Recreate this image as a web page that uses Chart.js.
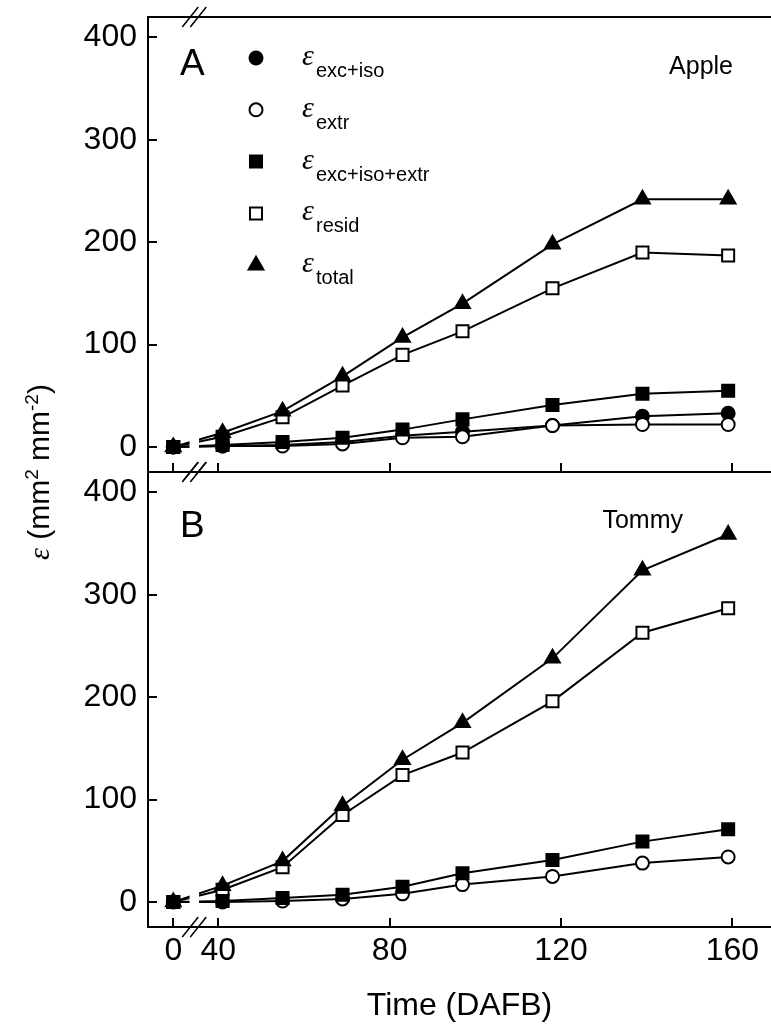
<!DOCTYPE html>
<html lang="en">
<head>
<meta charset="UTF-8">
<title>Deformação - Apple e Tommy</title>
<script src="https://cdn.jsdelivr.net/npm/chart.js"></script>
<style>
  body { margin: 0; background: #fff; }
  #quadro { position: relative; width: 771px; height: 1036px; overflow: hidden; font-family: "Liberation Sans", Arial, sans-serif; }
  canvas { position: absolute; left: 0; }
  #graficoA { top: 0; }
  #graficoB { top: 462px; }
  .rotulo { position: absolute; white-space: nowrap; color: #000; line-height: 1; }
  .eps { font-family: "Liberation Serif", "DejaVu Serif", serif; font-style: italic; }
</style>
</head>
<body>
<div id="quadro">
  <canvas id="graficoA" width="771" height="480"></canvas>
  <canvas id="graficoB" width="771" height="574"></canvas>
</div>

<script>
    // dados (dias após a floração)
    const dias = [0, 41, 55, 69, 83, 97, 118, 139, 159];

    const appleExcIso = [0, 1, 2, 5, 11, 15, 21, 30, 33];
    const appleExtr = [0, 1, 1, 3, 9, 10, 21, 22, 22];
    const appleExcIsoExtr = [0, 2, 5, 9, 17, 27, 41, 52, 55];
    const appleResid = [0, 10, 29, 60, 90, 113, 155, 190, 187];
    const appleTotal = [0, 14, 35, 69, 107, 140, 198, 242, 242];

    const tommyExtr = [0, 0, 1, 3, 8, 17, 25, 38, 44];
    const tommyExcIsoExtr = [0, 1, 4, 7, 15, 28, 41, 59, 71];
    const tommyResid = [0, 12, 34, 85, 124, 146, 196, 263, 287];
    const tommyTotal = [0, 16, 40, 94, 139, 175, 238, 324, 359];

    const xTicks = [0, 40, 80, 120, 160];
    const yTicks = [0, 100, 200, 300, 400];
    const legendaSub = ['exc+iso', 'extr', 'exc+iso+extr', 'resid', 'total'];
    const legendaEstilo = ['circle', 'circle', 'rect', 'rect', 'triangle'];
    const legendaCheio = [true, false, true, false, true];

    // eixo x quebrado: o 0 fica logo antes da quebra
    const X0_POS = 29.5;
    const QUEBRA = [33.3, 35.5];
    function eixoX(v) {
        return v < 20 ? X0_POS + v : v;
    }

    const FONTE = '"Liberation Sans", Arial, sans-serif';
    Chart.defaults.font.family = FONTE;
    Chart.defaults.color = '#000';

    function raio(estilo) {
        if (estilo === 'circle') return 6.5;
        return 8.5;
    }

    function serie(valores, estilo, cheio, ordem) {
        return {
            data: dias.map((d, i) => ({ x: eixoX(d), y: valores[i] })),
            borderColor: '#000',
            borderWidth: 2,
            pointStyle: estilo,
            pointRadius: raio(estilo),
            pointBackgroundColor: cheio ? '#000' : '#fff',
            pointBorderColor: '#000',
            pointBorderWidth: 2,
            order: ordem,
            tension: 0
        };
    }

    // moldura, marcas internas e quebra do eixo
    const moldura = {
        id: 'moldura',
        afterDatasetsDraw(chart) {
            const { ctx, chartArea: a, scales: { x } } = chart;
            const g1 = x.getPixelForValue(QUEBRA[0]);
            const g2 = x.getPixelForValue(QUEBRA[1]);
            ctx.save();
            ctx.fillStyle = '#fff';
            ctx.fillRect(g1, a.top + 3, g2 - g1, a.bottom - a.top - 6);
            ctx.restore();
        },
        afterDraw(chart, args, opts) {
            const { ctx, chartArea: a, scales: { x, y } } = chart;
            ctx.save();
            ctx.strokeStyle = '#000';
            ctx.lineWidth = 2;
            ctx.beginPath();
            ctx.moveTo(a.left, a.top);
            ctx.lineTo(a.left, a.bottom);
            ctx.moveTo(a.left - 1, a.top);
            ctx.lineTo(a.right, a.top);
            ctx.moveTo(a.left - 1, a.bottom);
            ctx.lineTo(a.right, a.bottom);
            yTicks.forEach(v => {
                const py = Math.round(y.getPixelForValue(v));
                ctx.moveTo(a.left, py);
                ctx.lineTo(a.left + 9, py);
            });
            xTicks.forEach(v => {
                const px = Math.round(x.getPixelForValue(eixoX(v)));
                ctx.moveTo(px, a.bottom);
                ctx.lineTo(px, a.bottom - 9);
            });
            ctx.stroke();

            // barras da quebra
            ctx.lineWidth = 1.5;
            const meio = x.getPixelForValue((QUEBRA[0] + QUEBRA[1]) / 2);
            ctx.beginPath();
            [a.top, a.bottom].forEach(yy => {
                [-4, 4].forEach(d => {
                    ctx.moveTo(meio + d - 8, yy + 10);
                    ctx.lineTo(meio + d + 8, yy - 10);
                });
            });
            ctx.stroke();

            // símbolos da legenda (só no painel A)
            if (opts.legenda) {
                legendaEstilo.forEach((estilo, i) => {
                    ctx.fillStyle = legendaCheio[i] ? '#000' : '#fff';
                    ctx.strokeStyle = '#000';
                    ctx.lineWidth = 2;
                    Chart.helpers.drawPoint(ctx, { pointStyle: estilo, radius: raio(estilo), borderWidth: 2, rotation: 0 }, 256, 58 + i * 51.8);
                });
            }
            ctx.restore();
        }
    };

    function escalaY() {
        return {
            type: 'linear',
            min: -24.4,
            max: 420,
            afterFit(s) {
                s.width = 148;
                s.paddingTop = 0;
                s.paddingBottom = 0;
            },
            afterBuildTicks(s) { s.ticks = yTicks.map(v => ({ value: v })); },
            grid: { display: false, drawTicks: false },
            border: { display: false },
            ticks: { font: { size: 32 }, color: '#000', padding: 11 }
        };
    }

    // Painel A - Apple
    new Chart(document.getElementById('graficoA'), {
        type: 'line',
        data: {
            datasets: [
                serie(appleExcIso, 'circle', true, 3),
                serie(appleExtr, 'circle', false, 2),
                serie(appleExcIsoExtr, 'rect', true, 0),
                serie(appleResid, 'rect', false, 4),
                serie(appleTotal, 'triangle', true, 1)
            ]
        },
        options: {
            responsive: false,
            animation: false,
            layout: { autoPadding: false, padding: { top: 17, bottom: 8, left: 0, right: 0 } },
            plugins: { legend: { display: false }, tooltip: { enabled: false }, moldura: { legenda: true } },
            scales: {
                x: { type: 'linear', min: 23.6, max: 169, display: false },
                y: escalaY()
            }
        },
        plugins: [moldura]
    });

    // Painel B - Tommy
    new Chart(document.getElementById('graficoB'), {
        type: 'line',
        data: {
            datasets: [
                serie(tommyExtr, 'circle', false, 2),
                serie(tommyExcIsoExtr, 'rect', true, 0),
                serie(tommyResid, 'rect', false, 3),
                serie(tommyTotal, 'triangle', true, 1)
            ]
        },
        options: {
            responsive: false,
            animation: false,
            layout: { autoPadding: false, padding: { top: 10, bottom: 0, left: 0, right: 0 } },
            plugins: { legend: { display: false }, tooltip: { enabled: false }, moldura: { legenda: false } },
            scales: {
                x: {
                    type: 'linear',
                    min: 23.6,
                    max: 169,
                    afterFit(s) {
                        s.height = 109;
                        s.paddingLeft = 0;
                        s.paddingRight = 0;
                    },
                    afterBuildTicks(s) { s.ticks = xTicks.map(v => ({ value: eixoX(v) })); },
                    grid: { display: false, drawTicks: false },
                    border: { display: false },
                    ticks: {
                        font: { size: 32 },
                        color: '#000',
                        padding: 5,
                        autoSkip: false,
                        maxRotation: 0,
                        callback: v => v === X0_POS ? '0' : v
                    },
                    title: { display: true, text: 'Time (DAFB)', font: { size: 32 }, color: '#000', padding: { top: 0, bottom: 11 } }
                },
                y: escalaY()
            }
        },
        plugins: [moldura]
    });

    // textos sobrepostos
    const quadro = document.getElementById('quadro');
    function texto(html, estilo, classe) {
        const d = document.createElement('div');
        d.className = 'rotulo' + (classe ? ' ' + classe : '');
        d.innerHTML = html;
        Object.assign(d.style, estilo);
        quadro.appendChild(d);
        return d;
    }

    texto('A', { left: '180px', top: '44px', fontSize: '37px' });
    texto('B', { left: '180px', top: '506px', fontSize: '37px' });
    texto('Apple', { right: '38px', top: '53px', fontSize: '25px' });
    texto('Tommy', { right: '88px', top: '507px', fontSize: '25px' });

    legendaSub.forEach((sub, i) => {
        const linha = 58 + i * 51.8;
        texto('ε', { left: '302px', top: (linha + 7 - 25) + 'px', fontSize: '30px' }, 'eps');
        texto(sub, { left: '316px', top: (linha + 19 - 17) + 'px', fontSize: '20px' });
    });

    texto('<span class="eps">ε</span> (mm<sup style="font-size:19px">2</sup> mm<sup style="font-size:19px">-2</sup>)',
        { left: '38px', top: '472px', fontSize: '30px', transform: 'translate(-50%, -50%) rotate(-90deg)' });
</script>
</body>
</html>
